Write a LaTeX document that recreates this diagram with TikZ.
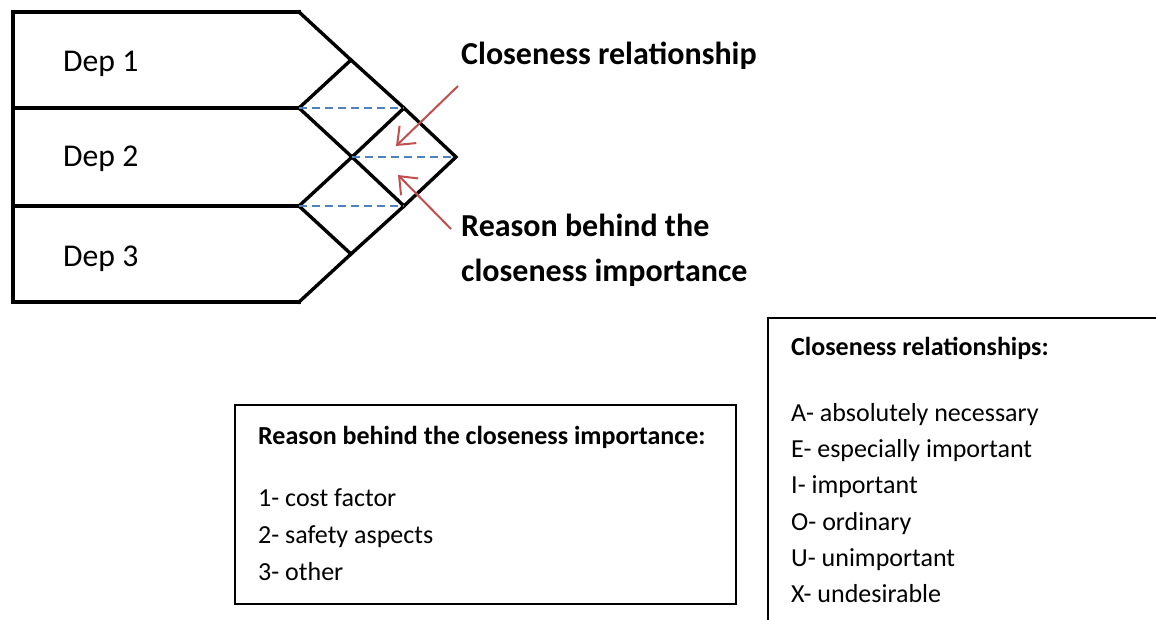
\documentclass[tikz,border=0pt]{standalone}
\usepackage{fontspec}
\setmainfont{Carlito}
\usetikzlibrary{arrows.meta}
\definecolor{dashblue}{HTML}{4F81BD}
\definecolor{arrred}{HTML}{C0504D}
\tikzset{
  thickline/.style={line width=3.4pt, line join=miter, line cap=rect},
  dashline/.style={dashblue, line width=1.7pt, dash pattern=on 8pt off 5pt},
  redarrow/.style={arrred, line width=2pt, -{Straight Barb[length=15pt,width=24pt]}},
  deptext/.style={anchor=base west, inner sep=0pt, font=\fontsize{31.7}{38}\selectfont},
  titletext/.style={anchor=base west, inner sep=0pt, font=\fontsize{32}{38}\selectfont\bfseries},
  boxtitle/.style={anchor=base west, inner sep=0pt, font=\fontsize{26}{31}\selectfont\bfseries},
  boxtext/.style={anchor=base west, inner sep=0pt, font=\fontsize{26}{31}\selectfont},
  legendbox/.style={draw=black, line width=1.3pt},
}
\begin{document}
\begin{tikzpicture}[x=1pt,y=-1pt]
\useasboundingbox (0,0) rectangle (1156,619);
% lattice points
\coordinate (tl) at (13,12);
\coordinate (bl) at (13,302);
\coordinate (m1l) at (13,108);
\coordinate (m2l) at (13,206);
\coordinate (t0) at (299,12);
\coordinate (b0) at (299,302);
\coordinate (a1) at (299,108);
\coordinate (a2) at (299,206);
\coordinate (p1) at (351,60);
\coordinate (p2) at (352,157);
\coordinate (p3) at (351,254);
\coordinate (q1) at (404,108);
\coordinate (q2) at (404,206);
\coordinate (r1) at (456,157);
% department outline
\draw[thickline] (t0) -- (tl) -- (bl) -- (b0);
\draw[thickline] (m1l) -- (a1);
\draw[thickline] (m2l) -- (a2);
\draw[thickline] (t0) -- (p1) -- (q1) -- (r1) -- (q2) -- (p3) -- (b0);
\draw[thickline] (a1) -- (p1);
\draw[thickline] (a1) -- (p2) -- (q2);
\draw[thickline] (a2) -- (p2) -- (q1);
\draw[thickline] (a2) -- (p3);
% dashed
\draw[dashline] (a1) -- (q1);
\draw[dashline] (p2) -- (r1);
\draw[dashline] (a2) -- (q2);
% labels
\node[deptext] (d1) at (63,71) {Dep 1};
\node[deptext] (d2) at (63,166) {Dep 2};
\node[deptext] (d3) at (63,266) {Dep 3};
\node[titletext] (cr) at (461,64) {Closeness relationship};
\node[titletext] (rb1) at (461,236) {Reason behind the};
\node[titletext] (rb2) at (461,281) {closeness importance};
% arrows
\coordinate (s1) at (458,86);
\coordinate (e1) at (396,146);
\coordinate (s2) at (451,229);
\coordinate (e2) at (398,175);
\draw[redarrow] (s1) -- (e1);
\draw[redarrow] (s2) -- (e2);
% left legend box
\draw[legendbox] (235,405) rectangle (736,604);
\node[boxtitle] (lt) at (258,444) {Reason behind the closeness importance:};
\node[boxtext] (l1) at (258,506) {1- cost factor};
\node[boxtext] (l2) at (258,543) {2- safety aspects};
\node[boxtext] (l3) at (258,580) {3- other};
% right legend box
\begin{scope}
\clip (0,0) rectangle (1156,619);
\draw[legendbox] (768,640) -- (768,318) -- (1170,318);
\end{scope}
\node[boxtitle] (rt) at (791,355) {Closeness relationships:};
\node[boxtext] (ra) at (791,421) {A- absolutely necessary};
\node[boxtext] (re) at (791,457) {E- especially important};
\node[boxtext] (ri) at (791,493) {I- important};
\node[boxtext] (ro) at (791,530) {O- ordinary};
\node[boxtext] (ru) at (791,566) {U- unimportant};
\node[boxtext] (rx) at (791,602) {X- undesirable};
\end{tikzpicture}
\end{document}
